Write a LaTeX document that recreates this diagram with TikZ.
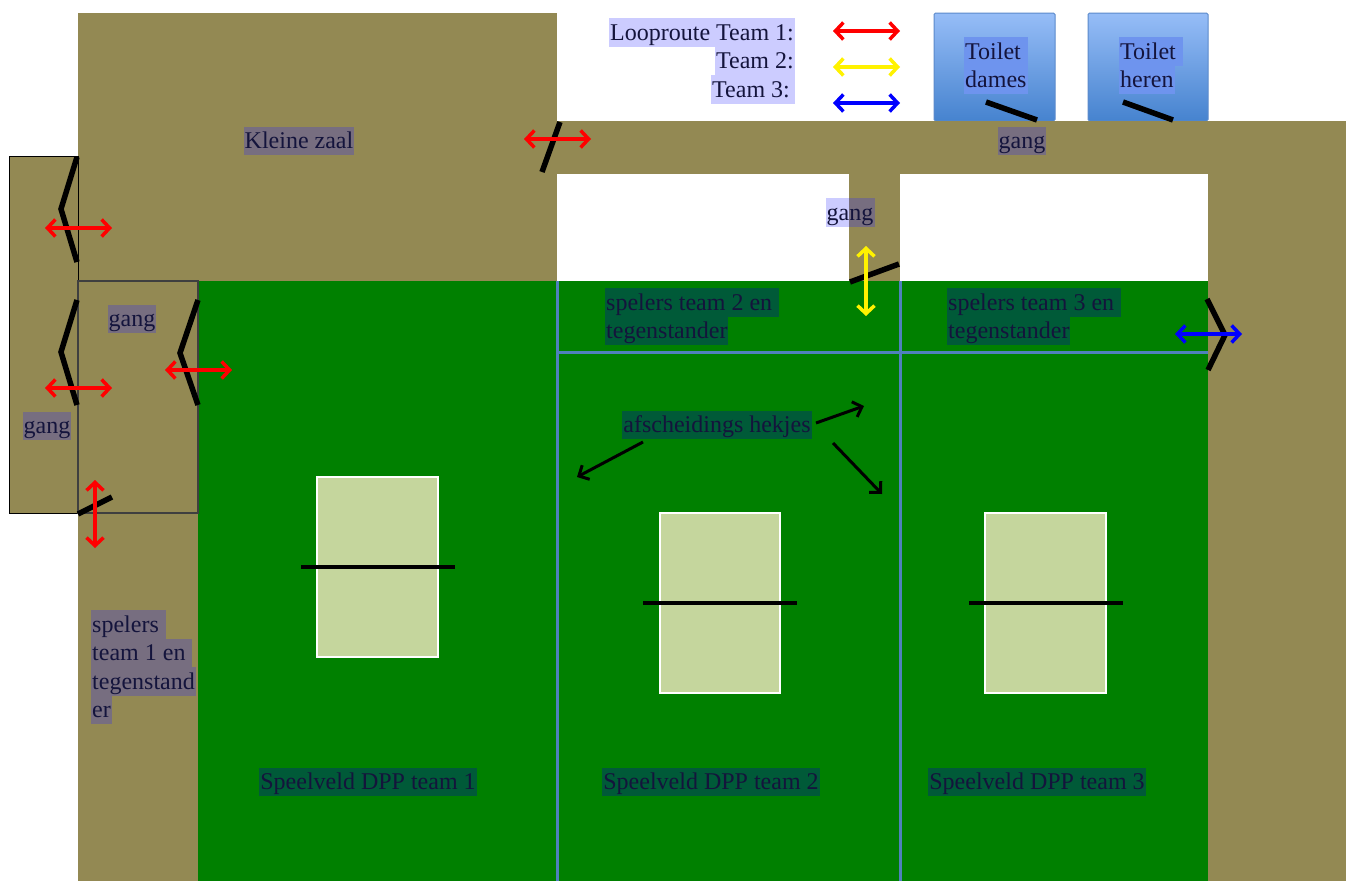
\documentclass[tikz,border=0pt]{standalone}
\usepackage{fontspec}
\setmainfont{Liberation Serif}
\usetikzlibrary{arrows.meta}
\definecolor{tan}{HTML}{938953}
\definecolor{fieldgreen}{HTML}{008000}
\definecolor{courtfill}{HTML}{C5D69D}
\definecolor{gridblue}{HTML}{4F81BD}
\definecolor{txt}{HTML}{14143C}
\definecolor{hlwhite}{HTML}{CCCCFF}
\definecolor{hlbrown}{HTML}{776E80}
\definecolor{hlgreen}{HTML}{005A38}
\definecolor{hlblue}{HTML}{6E94EE}
\definecolor{toiltop}{HTML}{96BDF7}
\definecolor{toilbot}{HTML}{4683CF}
\definecolor{toilborder}{HTML}{5B8ACB}
\definecolor{boxline}{HTML}{3F3F3F}
\newcommand\hlite[2]{\begingroup\setlength{\fboxsep}{0pt}\colorbox{#1}{\rule[-6.5pt]{0pt}{28.5pt}\hspace{1pt}#2\hspace{1pt}}\endgroup}
\begin{document}
\begin{tikzpicture}[x=1pt,y=-1pt,
  lbl/.style={inner sep=0pt, text=txt, font=\fontsize{24}{28.5}\selectfont},
  route/.style={line width=3.5pt, {Straight Barb[length=8pt,width=17pt]}-{Straight Barb[length=8pt,width=17pt]}},
  door/.style={line width=5.5pt, draw=black},
  pointer/.style={line width=3pt, draw=black, -{Straight Barb[length=8pt,width=16pt]}},
  fieldline/.style={draw=gridblue, line width=3pt},
  court/.style={fill=courtfill, draw=white, line width=1.5pt},
  net/.style={draw=black, line width=4.5pt},
  toilet/.style={top color=toiltop, bottom color=toilbot, draw=toilborder, line width=1pt, rounded corners=1.5pt},
]
\useasboundingbox (0,0) rectangle (1353,881);
\fill[white] (0,0) rectangle (1353,881);

% ---- floor areas ----
\fill[tan] (78,13) rectangle (557,281);        % Kleine zaal
\shade[toilet] (934,13) rectangle (1055,121);  % toilet dames
\shade[toilet] (1088,13) rectangle (1208,121); % toilet heren
\fill[tan] (557,121) rectangle (1346,174);     % top corridor
\fill[tan] (1208,121) rectangle (1346,881);    % right column
\fill[tan] (849,174) rectangle (900,281);      % small corridor
\fill[fieldgreen] (198,281) rectangle (1208,881);
\fill[tan] (78,281) rectangle (198,881);       % left column
\filldraw[fill=tan, draw=black, line width=1pt] (9,156) rectangle (78,513);
\draw[draw=boxline, line width=1.2pt] (78,281) rectangle (198,513);

% ---- field dividers ----
\draw[fieldline] (557,281) -- (557,881);
\draw[fieldline] (900,281) -- (900,881);
\draw[fieldline] (557,352) -- (1208,352);

% ---- courts ----
\draw[court] (317,477) rectangle (438,657);
\draw[court] (660,513) rectangle (780,693);
\draw[court] (985,513) rectangle (1106,693);
\draw[net] (301,567) -- (455,567);
\draw[net] (643,603) -- (797,603);
\draw[net] (969,603) -- (1123,603);

% ---- doors ----
\draw[door] (986,102) -- (1037,120);
\draw[door] (1123,102) -- (1173,120);
\draw[door] (560,122) -- (542,172);
\draw[door] (77,157) -- (61,209) -- (77,262);
\draw[door] (77,300) -- (61,352) -- (77,405);
\draw[door] (198,300) -- (180,353) -- (198,405);
\draw[door] (78,514) -- (112,497);
\draw[door] (850,282) -- (899,264);
\draw[door] (1207,299) -- (1225,335) -- (1208,370);

% ---- labels ----
\node[lbl, anchor=north east, align=right] (legend) at (795,18)
  {\hlite{hlwhite}{Looproute Team 1:}\\\hlite{hlwhite}{Team 2:}\\\hlite{hlwhite}{Team 3:\hspace{4pt}}};
\node[lbl] (kleine) at (299,141) {\hlite{hlbrown}{Kleine zaal}};
\node[lbl] (gangtop) at (1022,141) {\hlite{hlbrown}{gang}};
\fill[hlwhite] (826,198) rectangle (849,227);
\fill[hlbrown] (849,198) rectangle (875,227);
\node[lbl] (gangsmall) at (850,212.5) {\rule[-6.5pt]{0pt}{28.5pt}gang};
\node[lbl] (gangbox) at (132,319) {\hlite{hlbrown}{gang}};
\node[lbl] (gangleft) at (47,426) {\hlite{hlbrown}{gang}};
\node[lbl, anchor=north west, align=left] (dames) at (964,37)
  {\hlite{hlblue}{Toilet }\\\hlite{hlblue}{dames}};
\node[lbl, anchor=north west, align=left] (heren) at (1119,37)
  {\hlite{hlblue}{Toilet }\\\hlite{hlblue}{heren}};
\node[lbl, anchor=north west, align=left] (sp2) at (605,288)
  {\hlite{hlgreen}{spelers team 2 en }\\\hlite{hlgreen}{tegenstander}};
\node[lbl, anchor=north west, align=left] (sp3) at (947,288)
  {\hlite{hlgreen}{spelers team 3 en }\\\hlite{hlgreen}{tegenstander}};
\node[lbl, anchor=north west, align=left] (sp1) at (91,610)
  {\hlite{hlbrown}{spelers }\\\hlite{hlbrown}{team 1 en }\\\hlite{hlbrown}{tegenstand}\\\hlite{hlbrown}{er}};
\node[lbl] (hekjes) at (717,425) {\hlite{hlgreen}{afscheidings hekjes}};
\node[lbl] (veld1) at (368,782) {\hlite{hlgreen}{Speelveld DPP team 1}};
\node[lbl] (veld2) at (711,782) {\hlite{hlgreen}{Speelveld DPP team 2}};
\node[lbl] (veld3) at (1037,782) {\hlite{hlgreen}{Speelveld DPP team 3}};

% ---- route arrows ----
\coordinate (l1a) at (833,31);  \coordinate (l1b) at (900,31);
\coordinate (l2a) at (833,67);  \coordinate (l2b) at (900,67);
\coordinate (l3a) at (833,103); \coordinate (l3b) at (900,103);
\draw[route, red] (l1a) -- (l1b);
\draw[route, yellow] (l2a) -- (l2b);
\draw[route, blue] (l3a) -- (l3b);

\coordinate (kza) at (524,139); \coordinate (kzb) at (591,139);
\coordinate (g1a) at (45,228);  \coordinate (g1b) at (112,228);
\coordinate (g2a) at (45,388);  \coordinate (g2b) at (112,388);
\coordinate (g3a) at (165,370); \coordinate (g3b) at (232,370);
\coordinate (g4a) at (95,480);  \coordinate (g4b) at (95,548);
\coordinate (ya) at (866,246);  \coordinate (yb) at (866,316);
\coordinate (ba) at (1175,334); \coordinate (bb) at (1242,334);
\draw[route, red] (kza) -- (kzb);
\draw[route, red] (g1a) -- (g1b);
\draw[route, red] (g2a) -- (g2b);
\draw[route, red] (g3a) -- (g3b);
\draw[route, red] (g4a) -- (g4b);
\draw[route, yellow] (ya) -- (yb);
\draw[route, blue] (ba) -- (bb);

% ---- pointers from afscheidings hekjes ----
\coordinate (p1) at (577,477);
\coordinate (p2) at (864,406);
\coordinate (p3) at (882,494);
\coordinate (h1) at (643,442);
\coordinate (h2) at (816,423);
\coordinate (h3) at (833,443);
\draw[pointer] (h1) -- (p1);
\draw[pointer] (h2) -- (p2);
\draw[pointer] (h3) -- (p3);
\end{tikzpicture}
\end{document}
